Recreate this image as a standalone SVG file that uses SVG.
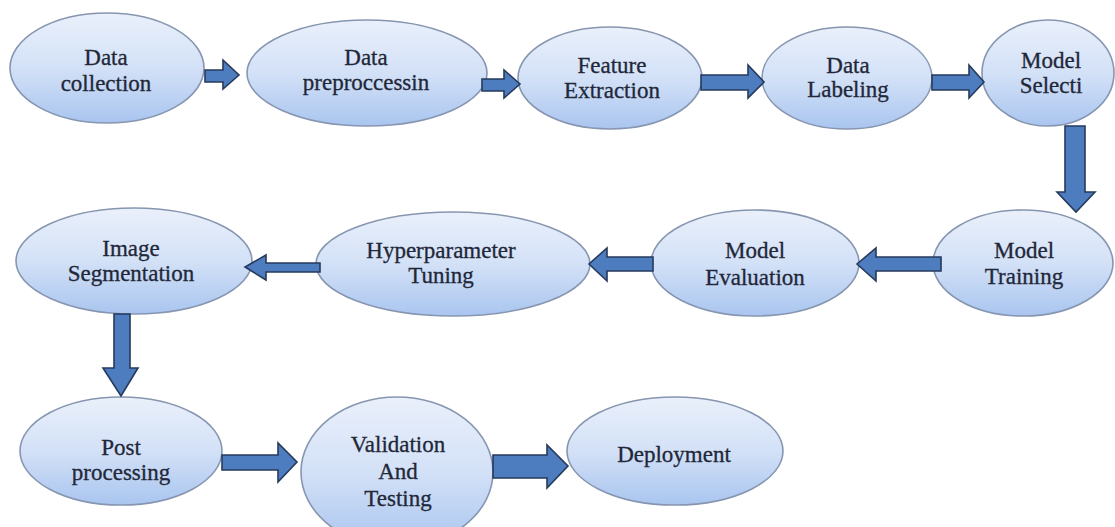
<svg xmlns="http://www.w3.org/2000/svg" width="1115" height="527" viewBox="0 0 1115 527">
<style>
.node ellipse{fill:url(#g);stroke:#8796b0;stroke-width:1.6}
.node text{font-family:"Liberation Serif","Times New Roman",serif;font-size:23px;fill:#222738;stroke:#222738;stroke-width:0.3;text-anchor:middle}
.arr{fill:#4d7cbf;stroke:#263a5c;stroke-width:1.6;stroke-linejoin:miter}
</style>
<defs>
<linearGradient id="g" x1="0" y1="0" x2="0" y2="1">
<stop offset="0" stop-color="#eaf0fb"/>
<stop offset="0.5" stop-color="#d3e1f7"/>
<stop offset="1" stop-color="#a9c5ef"/>
</linearGradient>
</defs>
<rect width="1115" height="527" fill="#ffffff"/>
<g id="n1" class="node"><ellipse cx="107" cy="68" rx="97" ry="55"/><text x="106" y="65">Data</text><text x="106" y="91">collection</text></g>
<g id="n2" class="node"><ellipse cx="367" cy="73" rx="120" ry="53"/><text x="366" y="65">Data</text><text x="366" y="90">preproccessin</text></g>
<g id="n3" class="node"><ellipse cx="610" cy="78" rx="92" ry="51"/><text x="612" y="73">Feature</text><text x="612" y="98">Extraction</text></g>
<g id="n4" class="node"><ellipse cx="847" cy="78" rx="85" ry="51"/><text x="848" y="73">Data</text><text x="848" y="97">Labeling</text></g>
<g id="n5" class="node"><ellipse cx="1048" cy="73" rx="66" ry="53"/><text x="1051" y="68">Model</text><text x="1051" y="93">Selecti</text></g>
<g id="n6" class="node"><ellipse cx="1023" cy="263" rx="90" ry="53"/><text x="1024" y="258">Model</text><text x="1024" y="284">Training</text></g>
<g id="n7" class="node"><ellipse cx="755" cy="263" rx="104" ry="53"/><text x="755" y="258">Model</text><text x="755" y="285">Evaluation</text></g>
<g id="n8" class="node"><ellipse cx="453" cy="264" rx="137" ry="52"/><text x="441" y="258">Hyperparameter</text><text x="441" y="283">Tuning</text></g>
<g id="n9" class="node"><ellipse cx="134" cy="261" rx="118" ry="53"/><text x="131" y="256">Image</text><text x="131" y="281">Segmentation</text></g>
<g id="n10" class="node"><ellipse cx="121" cy="451" rx="101" ry="54"/><text x="121" y="455">Post</text><text x="121" y="480">processing</text></g>
<g id="n11" class="node"><ellipse cx="397" cy="472" rx="96" ry="75"/><text x="398" y="452">Validation</text><text x="398" y="479">And</text><text x="398" y="506">Testing</text></g>
<g id="n12" class="node"><ellipse cx="675" cy="451" rx="108" ry="54"/><text x="674" y="462">Deployment</text></g>
<g id="connectors">
<polygon class="arr" points="205,70 223,70 223,60 239,75 223,89 223,82 205,82"/>
<polygon class="arr" points="482,79 504,79 504,70 520,84 504,98 504,91 482,91"/>
<polygon class="arr" points="701,75 748,75 748,65 764,82 748,98 748,90 701,90"/>
<polygon class="arr" points="932,75 969,75 969,65 984,82 969,98 969,90 932,90"/>
<polygon class="arr" points="1065,126 1085,126 1085,192 1095,192 1076,212 1057,192 1065,192"/>
<polygon class="arr" points="941,257 876,257 876,248 857,264 876,281 876,271 941,271"/>
<polygon class="arr" points="653,257 607,257 607,248 589,264 607,281 607,271 653,271"/>
<polygon class="arr" points="320,263 266,263 266,255 245,267 266,280 266,272 320,272"/>
<polygon class="arr" points="114,314 130,314 130,368 138,368 121,396 103,368 114,368"/>
<polygon class="arr" points="222,455 278,455 278,443 297,462 278,482 278,470 222,470"/>
<polygon class="arr" points="493,455 547,455 547,445 568,466 547,488 547,478 493,478"/>
</g>
</svg>
